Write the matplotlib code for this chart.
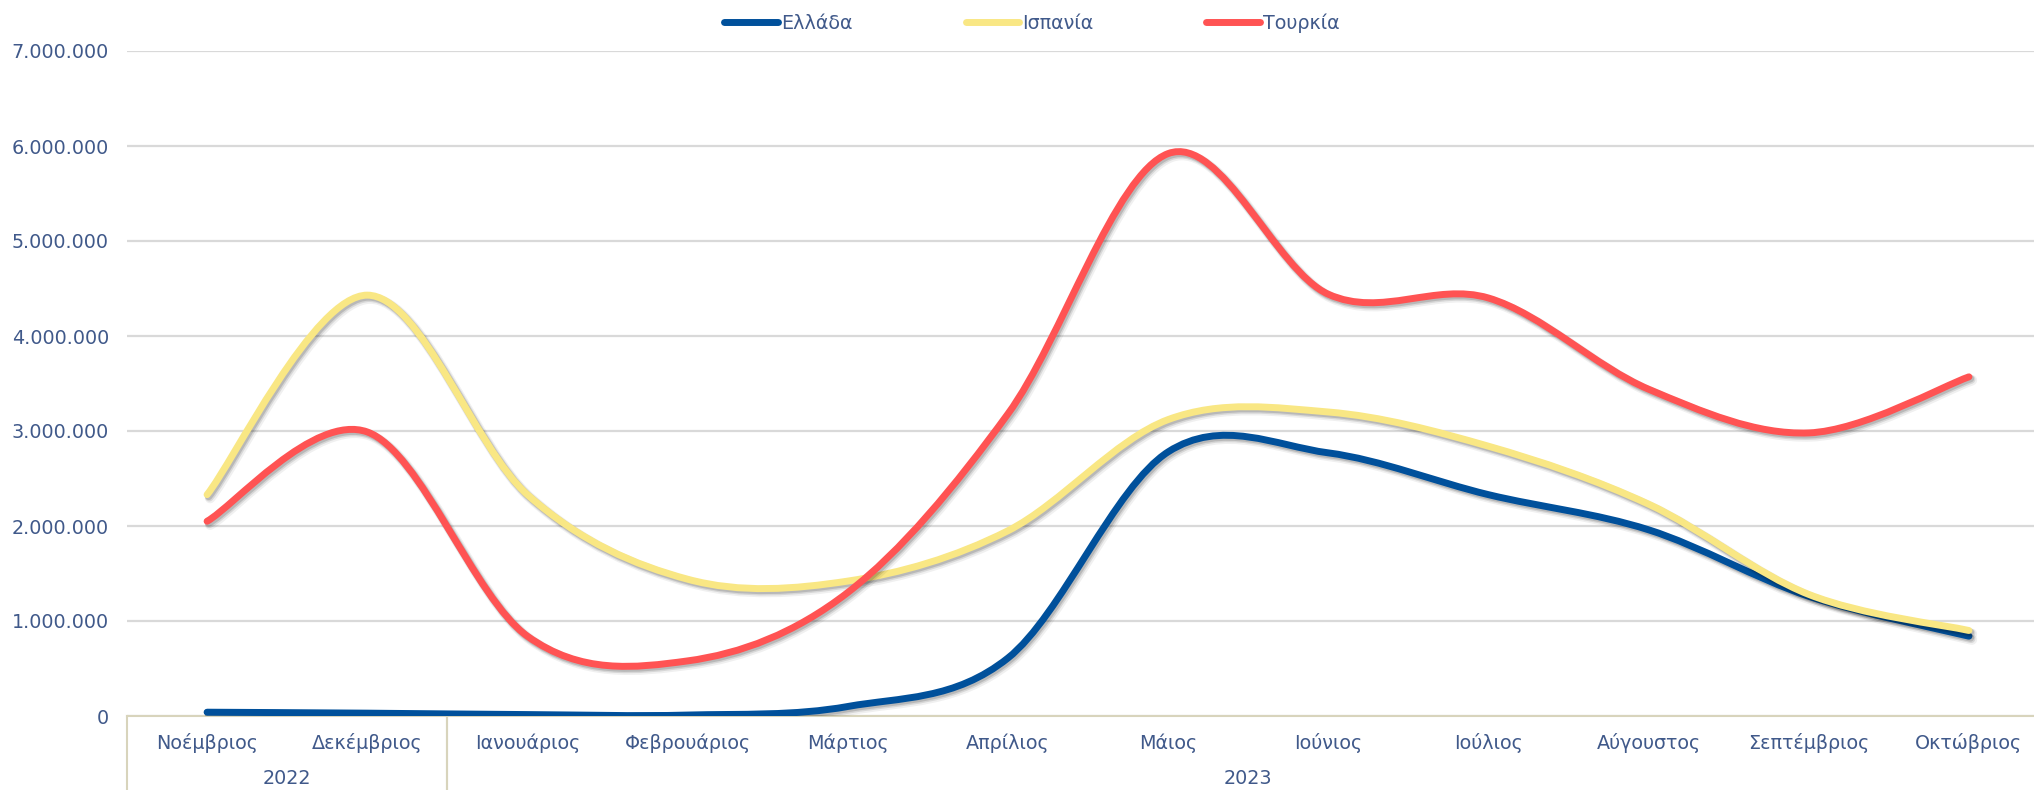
import matplotlib
matplotlib.use('Agg')
import matplotlib.pyplot as plt
import matplotlib.transforms as mtransforms
from matplotlib.path import Path
from matplotlib.patches import PathPatch
from matplotlib.lines import Line2D
from matplotlib.ticker import FuncFormatter, MultipleLocator

# ---------------- data ----------------
months = ['Νοέμβριος', 'Δεκέμβριος', 'Ιανουάριος', 'Φεβρουάριος', 'Μάρτιος',
          'Απρίλιος', 'Μάιος', 'Ιούνιος', 'Ιούλιος', 'Αύγουστος',
          'Σεπτέμβριος', 'Οκτώβριος']
years = ['2022', '2023']
year_first_idx = [0, 2]
year_last_idx = [1, 11]
series_names = ['Ελλάδα', 'Ισπανία', 'Τουρκία']
greece = [40000, 30000, 15000, 10000, 100000, 610000, 2780000, 2770000,
          2330000, 1960000, 1260000, 840000]
spain = [2330000, 4430000, 2330000, 1440000, 1420000, 1950000, 3120000,
         3200000, 2840000, 2230000, 1280000, 900000]
turkey = [2050000, 2990000, 840000, 580000, 1300000, 3180000, 5920000,
          4440000, 4400000, 3440000, 2980000, 3570000]
y_max = 7000000
y_step = 1000000

colors = ['#00509B', '#F9E784', '#FF5353']
text_color = '#40598A'
grid_color = '#D9D9D9'
axis_color = '#D8D4BC'
FS = 13.8

W, H = 2034, 790
fig = plt.figure(figsize=(W / 100, H / 100), dpi=100)
fig.patch.set_facecolor('white')
left_px, right_px, bottom_px, top_px = 127, 2049, 716, 51
ax = fig.add_axes([left_px / W, (H - bottom_px) / H,
                   (right_px - left_px) / W, (bottom_px - top_px) / H])


def smooth_path(xs, ys):
    n = len(xs)
    verts = [(xs[0], ys[0])]
    codes = [Path.MOVETO]
    for i in range(n - 1):
        a = i - 1 if i > 0 else i
        d = i + 2 if i + 2 < n else i + 1
        c1 = (xs[i] + (xs[i + 1] - xs[a]) / 6.0, ys[i] + (ys[i + 1] - ys[a]) / 6.0)
        c2 = (xs[i + 1] - (xs[d] - xs[i]) / 6.0, ys[i + 1] - (ys[d] - ys[i]) / 6.0)
        verts += [c1, c2, (xs[i + 1], ys[i + 1])]
        codes += [Path.CURVE4] * 3
    return Path(verts, codes)


xs = list(range(len(months)))
lw = 5.0
shadow_layers = [(3.0, -3.4, 2.6, 0.06), (2.2, -2.6, 1.2, 0.10), (1.6, -1.9, 0.2, 0.14)]
for k, (vals, col) in enumerate(zip([greece, spain, turkey], colors)):
    path = smooth_path(xs, vals)
    for dx, dy, extra, al in shadow_layers:
        sh = PathPatch(path, facecolor='none', edgecolor='#000000', lw=lw + extra,
                       alpha=al, capstyle='round', joinstyle='round', zorder=2.9 + k)
        sh.set_transform(mtransforms.offset_copy(ax.transData, fig=fig,
                                                 x=dx, y=dy, units='dots'))
        ax.add_patch(sh)
    ax.add_patch(PathPatch(path, facecolor='none', edgecolor=col, lw=lw,
                           capstyle='round', joinstyle='round', zorder=3 + k))

ax.set_xlim(-0.5, len(months) - 0.5)
ax.set_ylim(0, y_max)

# spines
for s in ['left', 'right', 'top']:
    ax.spines[s].set_visible(False)
ax.spines['bottom'].set_color(axis_color)
ax.spines['bottom'].set_linewidth(1.5)

# grid
ax.yaxis.set_major_locator(MultipleLocator(y_step))
ax.yaxis.grid(True, color=grid_color, lw=1.6)
ax.set_axisbelow(True)
ax.yaxis.set_major_formatter(FuncFormatter(lambda v, p: f"{int(v):,}".replace(',', '.')))
ax.tick_params(axis='y', length=0, pad=13, labelsize=FS, labelcolor=text_color)

# x categories
ax.set_xticks(xs)
ax.set_xticklabels(months)
ax.tick_params(axis='x', length=0, pad=19.5, labelsize=FS, labelcolor=text_color)
for lab in ax.get_xticklabels():
    lab.set_verticalalignment('center')

xtr = ax.get_xaxis_transform()
ax_h_px = bottom_px - top_px
box_bottom = -(H - bottom_px + 5) / ax_h_px
for f, l in zip(year_first_idx, year_last_idx):
    for xv in (f - 0.5, l + 0.5):
        ax.plot([xv, xv], [0, box_bottom], transform=xtr, color=axis_color,
                lw=1.5, clip_on=False, zorder=1)
for yr, f, l in zip(years, year_first_idx, year_last_idx):
    ax.text((f + l) / 2.0, -(779 - bottom_px) / ax_h_px, yr, transform=xtr,
            ha='center', va='center', fontsize=FS, color=text_color)

# legend
handles = [Line2D([0], [0], color=c, lw=lw, solid_capstyle='round') for c in colors]
fig.legend(handles, series_names, loc='center', bbox_to_anchor=(1032 / W, 1 - 23 / H),
           ncol=3, frameon=False, handlelength=2.8, handletextpad=0.15,
           columnspacing=5.9, borderpad=0, fontsize=FS, labelcolor=text_color)

fig.savefig('out.png', dpi=100, facecolor='white')
